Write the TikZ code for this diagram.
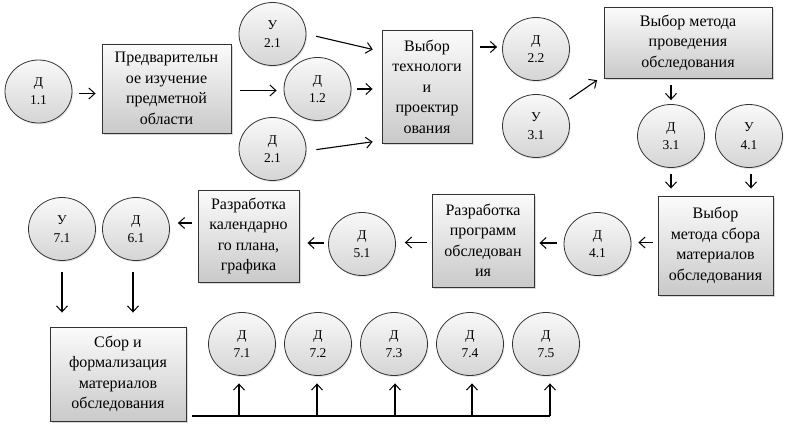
\documentclass[tikz,border=0pt]{standalone}
\usepackage{fontspec}
\setmainfont{Liberation Serif}
\usetikzlibrary{arrows.meta,shadows,calc,shapes.geometric}
\tikzset{
 proc/.style={rectangle, draw=black!80, line width=0.9pt, top color=gray!3, bottom color=gray!42,
   drop shadow={shadow xshift=2pt,shadow yshift=-2pt,opacity=0.3},
   align=center, inner sep=0pt, font=\fontsize{16}{20.5}\selectfont},
 ev/.style={ellipse, draw=black!80, line width=0.8pt, top color=gray!5, bottom color=gray!33,
   drop shadow={shadow xshift=1pt,shadow yshift=-1.5pt,opacity=0.2},
   minimum width=67pt, minimum height=63pt, inner sep=0pt, align=center,
   font=\fontsize{13.5}{18}\selectfont},
 conn/.style={-{Straight Barb[length=6pt,width=11pt,line width=1pt]}, line width=1.1pt},
 busline/.style={line width=1.1pt},
}
\begin{document}
\begin{tikzpicture}[x=1pt,y=-1pt]
\useasboundingbox (0,0) rectangle (786,428);
% process boxes
\node[proc, minimum width=129pt, minimum height=89pt] (pred) at (166.5,88.5) {Предварительн\\ое изучение\\предметной\\области};
\node[proc, minimum width=90pt, minimum height=113pt] (tech) at (427,86.5) {Выбор\\технологи\\и\\проектир\\ования};
\node[proc, minimum width=168pt, minimum height=71pt] (metod) at (688,42.5) {Выбор метода\\проведения\\обследования};
\node[proc, minimum width=115pt, minimum height=99pt] (sbormet) at (715.5,245.5) {Выбор\\метода сбора\\материалов\\обследования};
\node[proc, minimum width=102pt, minimum height=93pt] (prog) at (483,240.5) {Разработка\\программ\\обследован\\ия};
\node[proc, minimum width=101pt, minimum height=92pt] (kal) at (248.5,236) {Разработка\\календарно\\го плана,\\графика};
\node[proc, minimum width=136pt, minimum height=94pt] (sbor) at (118,374) {Сбор и\\формализация\\материалов\\обследования};
% events
\node[ev] (d11) at (38.5,91.5) {Д\\1.1};
\node[ev] (u21) at (272.5,34) {У\\2.1};
\node[ev] (d12) at (317.5,89) {Д\\1.2};
\node[ev] (d21) at (272.5,149) {Д\\2.1};
\node[ev] (d22) at (536,49) {Д\\2.2};
\node[ev] (u31) at (536,126) {У\\3.1};
\node[ev] (d31) at (671,136) {Д\\3.1};
\node[ev] (u41) at (749,136) {У\\4.1};
\node[ev] (d41) at (597.5,244) {Д\\4.1};
\node[ev] (d51) at (362,244) {Д\\5.1};
\node[ev] (d61) at (136,229) {Д\\6.1};
\node[ev] (u71) at (62,229) {У\\7.1};
\node[ev] (d71) at (242,344) {Д\\7.1};
\node[ev] (d72) at (318,344) {Д\\7.2};
\node[ev] (d73) at (394,344) {Д\\7.3};
\node[ev] (d74) at (470,344) {Д\\7.4};
\node[ev] (d75) at (546,344) {Д\\7.5};
% connectors
\draw[conn, shorten <=7pt, shorten >=6pt] ([yshift=-2pt]d11.east) -- ([yshift=-2pt]d11.east -| pred.west);
\draw[conn, shorten <=9pt, shorten >=7pt] ([yshift=-2pt]pred.east) -- ([yshift=-2pt]pred.east -| d12.west);
\draw[conn, shorten <=6pt, shorten >=9pt] (d12.east) -- (d12.east -| tech.west);
\draw[conn, shorten <=10pt, shorten >=9pt] (u21.east) -- ([yshift=35pt]tech.west);
\draw[conn, shorten <=10pt, shorten >=9pt] ([yshift=-2pt]d21.east) -- ([yshift=-54pt]tech.west);
\draw[conn, shorten <=8pt, shorten >=5pt] ([yshift=2pt]tech.east |- d22.west) -- ([yshift=2pt]d22.west);
\draw[conn, shorten <=10pt, shorten >=3pt] (u31.40) -- ([xshift=-4pt]metod.south west);
\draw[conn, shorten <=7pt, shorten >=4pt] (d31.north |- metod.south) -- (d31.north);
\draw[conn, shorten <=6pt, shorten >=7pt] (d31.south) -- (d31.south |- sbormet.north);
\draw[conn, shorten <=6pt, shorten >=7pt] ([xshift=2pt]u41.south) -- ([xshift=2pt]u41.south |- sbormet.north);
\draw[conn, shorten <=5pt, shorten >=7pt] ([yshift=3pt]sbormet.west) -- ([yshift=3pt]sbormet.west -| d41.east);
\draw[conn, shorten <=7pt, shorten >=5pt] ([yshift=1pt]d41.west) -- ([yshift=1pt]d41.west -| prog.east);
\draw[conn, shorten <=5pt, shorten >=9pt] ([yshift=-2pt]prog.west) -- ([yshift=-2pt]prog.west -| d51.east);
\draw[conn, shorten <=4pt, shorten >=8pt] ([yshift=1pt]d51.west) -- ([yshift=1pt]d51.west -| kal.east);
\draw[conn, shorten <=6pt, shorten >=8pt] ([yshift=13pt]kal.west) -- ([yshift=13pt]kal.west -| d61.east);
\draw[conn, shorten <=11pt, shorten >=14pt] (u71.south) -- (u71.south |- sbor.north);
\draw[conn, shorten <=11pt, shorten >=14pt] ([xshift=-3pt]d61.south) -- ([xshift=-3pt]d61.south |- sbor.north);
\coordinate (bus) at (192,416);
\draw[busline] (bus) -- ([xshift=4pt]bus -| d75);
\draw[conn, shorten >=7.5pt] ([xshift=-3pt]bus -| d71) -- ([xshift=-3pt]d71.south);
\draw[conn, shorten >=7.5pt] ([xshift=-1pt]bus -| d72) -- ([xshift=-1pt]d72.south);
\draw[conn, shorten >=7.5pt] ([xshift=1pt]bus -| d73) -- ([xshift=1pt]d73.south);
\draw[conn, shorten >=7.5pt] ([xshift=2pt]bus -| d74) -- ([xshift=2pt]d74.south);
\draw[conn, shorten >=7.5pt] ([xshift=4pt]bus -| d75) -- ([xshift=4pt]d75.south);
\end{tikzpicture}
\end{document}
